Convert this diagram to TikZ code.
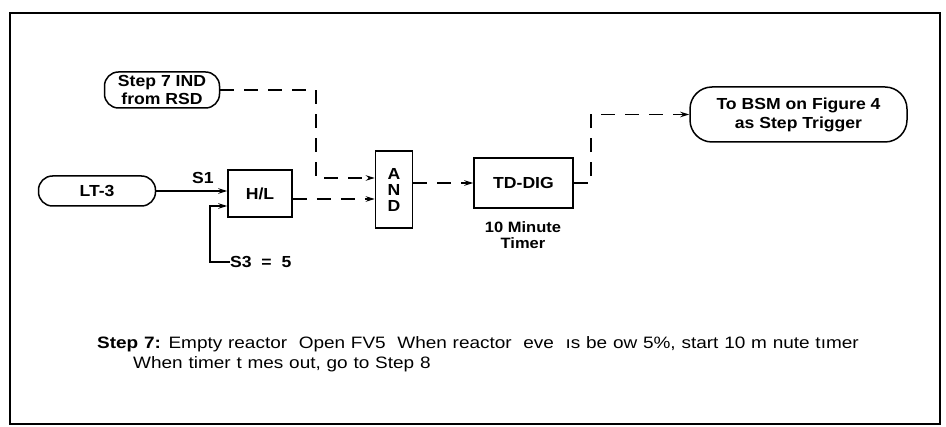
\documentclass[tikz,border=0pt]{standalone}
\usepackage{fontspec}
\setmainfont{Liberation Sans}[FakeStretch=1.1,WordSpace=1.0]
\newfontfamily\capfont{Liberation Sans}[FakeStretch=1.15,WordSpace=1.1]
\usetikzlibrary{arrows.meta}
\tikzset{
  lw/.style={line width=1.5pt},
  blk/.style={draw,lw,inner sep=0pt,align=center,font=\bfseries\fontsize{16}{16}\selectfont},
  oval/.style={blk,rounded corners=14pt},
  lbl/.style={inner sep=0pt,align=center,font=\bfseries\fontsize{16}{17}\selectfont},
  captxt/.style={inner sep=0pt,font=\capfont\fontsize{16.5}{17}\selectfont},
  arr/.style={lw,-{Stealth[length=9pt,width=5.5pt]}},
  dsh/.style={dash pattern=on 14pt off 10pt},
}
\begin{document}
\begin{tikzpicture}[x=1pt,y=-1pt]
\useasboundingbox (0,0) rectangle (946,427);
\draw[line width=1.3pt] (10,13) rectangle (940,424);
% nodes
\node[oval,minimum width=115pt,minimum height=36pt,font=\bfseries\fontsize{16}{18}\selectfont] (ind) at (162,90) {Step 7 IND\\from RSD};
\node[oval,minimum width=117pt,minimum height=30pt] (lt) at (97,191) {LT-3};
\node[blk,minimum width=64pt,minimum height=47pt] (hl) at (260,193.5) {H/L};
\node[blk,minimum width=37pt,minimum height=77pt] (and) at (394,189.5) {A\\N\\D};
\node[blk,minimum width=99pt,minimum height=50pt] (td) at (523.5,183) {TD-DIG};
\node[oval,rounded corners=22pt,minimum width=217pt,minimum height=55pt,font=\bfseries\fontsize{16}{19}\selectfont] (bsm) at (798.5,114.5) {To BSM on Figure 4\\as Step Trigger};
\node[lbl] (s1) at (203,178) {S1};
\node[lbl,anchor=west] (s3) at (230,262) {S3\ \ =\ \ 5};
\node[lbl,font=\bfseries\fontsize{15}{16}\selectfont] (tmr) at (523,235) {10 Minute\\Timer};
% junctions
\coordinate (j1) at (316,178);
\coordinate (j2) at (591,114.5);
\path ([yshift=-5.5pt]hl.east) coordinate (hlo);
% connectors
\draw[arr] (lt.east) -- (hl.west |- lt.east);
\draw[arr] (s3.west) -- ++(-20,0) |- ([yshift=-12.5pt]hl.west);
\draw[arr,dsh] (ind.east) -| (j1) -- (and.west |- j1);
\draw[arr,dsh] (hlo) -- (and.west |- hlo);
\draw[arr,dsh] (and.east |- td.west) -- (td.west);
\draw[arr,dsh] (td.east) -| (j2) -- (bsm.west);
% caption
\node[captxt,anchor=base west] (c1) at (97,349) {\textbf{Step 7:} Empty reactor\ \ Open FV5\ \ When reactor\ \ eve\ \ ıs be ow 5\%, start 10 m nute tımer};
\node[captxt,anchor=base west] (c2) at (133,369) {When timer t mes out, go to Step 8};
\end{tikzpicture}
\end{document}
